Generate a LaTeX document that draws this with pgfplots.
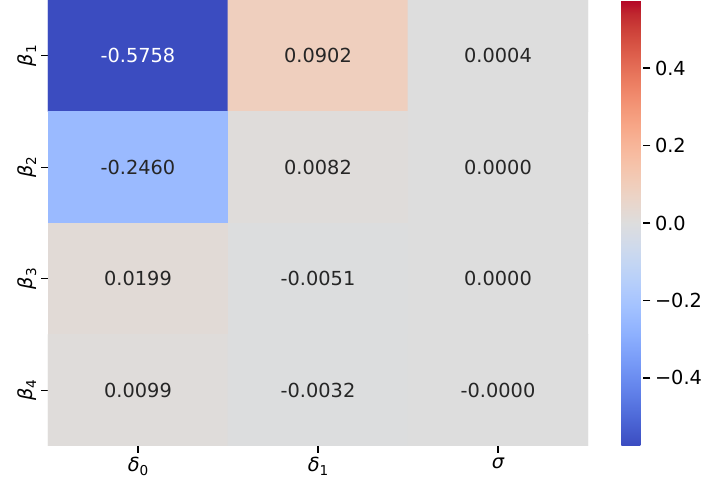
\documentclass[border=0pt]{standalone}
\usepackage{fontspec}
\setmainfont{DejaVu Sans}
\usepackage{pgfplots}
\pgfplotsset{compat=1.18}
\usetikzlibrary{calc}

\definecolor{annot}{RGB}{38,38,38}

\newcommand{\lbl}{\fontsize{14.5}{17}\selectfont}
\newcommand{\sym}[2]{{\itshape #1}\raisebox{-0.2em}{\fontsize{10.2}{12}\selectfont #2}}

\begin{document}
\begin{tikzpicture}
\begin{axis}[
  name=hm,
  scale only axis,
  width=405pt, height=334.5pt,
  xmin=-0.5, xmax=2.5, ymin=-0.5, ymax=3.5,
  y dir=reverse,
  axis line style={draw=none},
  tick align=outside,
  xtick pos=bottom, ytick pos=left,
  major tick length=5.2pt,
  tick style={black, line width=1.1pt},
  xtick={0,1,2},
  xticklabels={\sym{δ}{0}, \sym{δ}{1}, {\itshape σ}},
  ytick={0,1,2,3},
  yticklabels={\sym{β}{1}, \sym{β}{2}, \sym{β}{3}, \sym{β}{4}},
  yticklabel style={rotate=90, anchor=south},
  ticklabel style={font=\lbl},
  colormap={coolwarm}{
    rgb255(0)=(59,76,192) rgb255(1)=(68,90,204) rgb255(2)=(77,104,215)
    rgb255(3)=(87,117,225) rgb255(4)=(98,130,234) rgb255(5)=(108,142,241)
    rgb255(6)=(119,154,247) rgb255(7)=(130,165,251) rgb255(8)=(141,176,254)
    rgb255(9)=(152,185,255) rgb255(10)=(163,194,255) rgb255(11)=(174,201,253)
    rgb255(12)=(184,208,249) rgb255(13)=(194,213,244) rgb255(14)=(204,217,238)
    rgb255(15)=(213,219,230) rgb255(16)=(221,221,221) rgb255(17)=(229,216,209)
    rgb255(18)=(236,211,197) rgb255(19)=(241,204,184) rgb255(20)=(245,196,172)
    rgb255(21)=(247,187,160) rgb255(22)=(247,177,148) rgb255(23)=(247,166,135)
    rgb255(24)=(244,154,123) rgb255(25)=(241,141,111) rgb255(26)=(236,127,99)
    rgb255(27)=(229,112,88) rgb255(28)=(222,96,77) rgb255(29)=(213,80,66)
    rgb255(30)=(203,62,56) rgb255(31)=(192,40,47) rgb255(32)=(180,4,38)
  },
  point meta min=-0.5758, point meta max=0.5758,
  colorbar,
  colorbar style={
    at={(parent axis.north east)}, anchor=north west, xshift=16.5pt,
    scale only axis, width=16.5pt, height=334.5pt,
    axis line style={draw=none},
    ytick={-0.4,-0.2,0,0.2,0.4},
    yticklabels={−0.4,−0.2,0.0,0.2,0.4},
    ytick pos=right,
    tick align=outside,
    major tick length=5.2pt,
    tick style={black, line width=1.1pt},
    yticklabel style={font=\lbl},
  },
]
% heatmap cells
\addplot[matrix plot*, mesh/cols=3, point meta=explicit] table[meta=c] {
x y c
0 0 -0.5758
1 0 0.0902
2 0 0.0004
0 1 -0.2460
1 1 0.0082
2 1 0.0000
0 2 0.0199
1 2 -0.0051
2 2 0.0000
0 3 0.0099
1 3 -0.0032
2 3 -0.00001
};
% cell annotations
\addplot[draw=none, mark=none, point meta=explicit symbolic,
  nodes near coords, nodes near coords align=center,
  every node near coord/.append style={text=white, font=\lbl}]
  table[meta=lab] {
x y lab
0 0 -0.5758
};
\addplot[draw=none, mark=none, point meta=explicit symbolic,
  nodes near coords, nodes near coords align=center,
  every node near coord/.append style={text=annot, font=\lbl}]
  table[meta=lab] {
x y lab
1 0 0.0902
2 0 0.0004
0 1 -0.2460
1 1 0.0082
2 1 0.0000
0 2 0.0199
1 2 -0.0051
2 2 0.0000
0 3 0.0099
1 3 -0.0032
2 3 -0.0000
};
\coordinate (tl) at (axis cs:-0.5,-0.5);
\end{axis}
\path ($(tl)+(-36pt,0)$) rectangle ++(532.5pt,-366pt);
\end{tikzpicture}
\end{document}
